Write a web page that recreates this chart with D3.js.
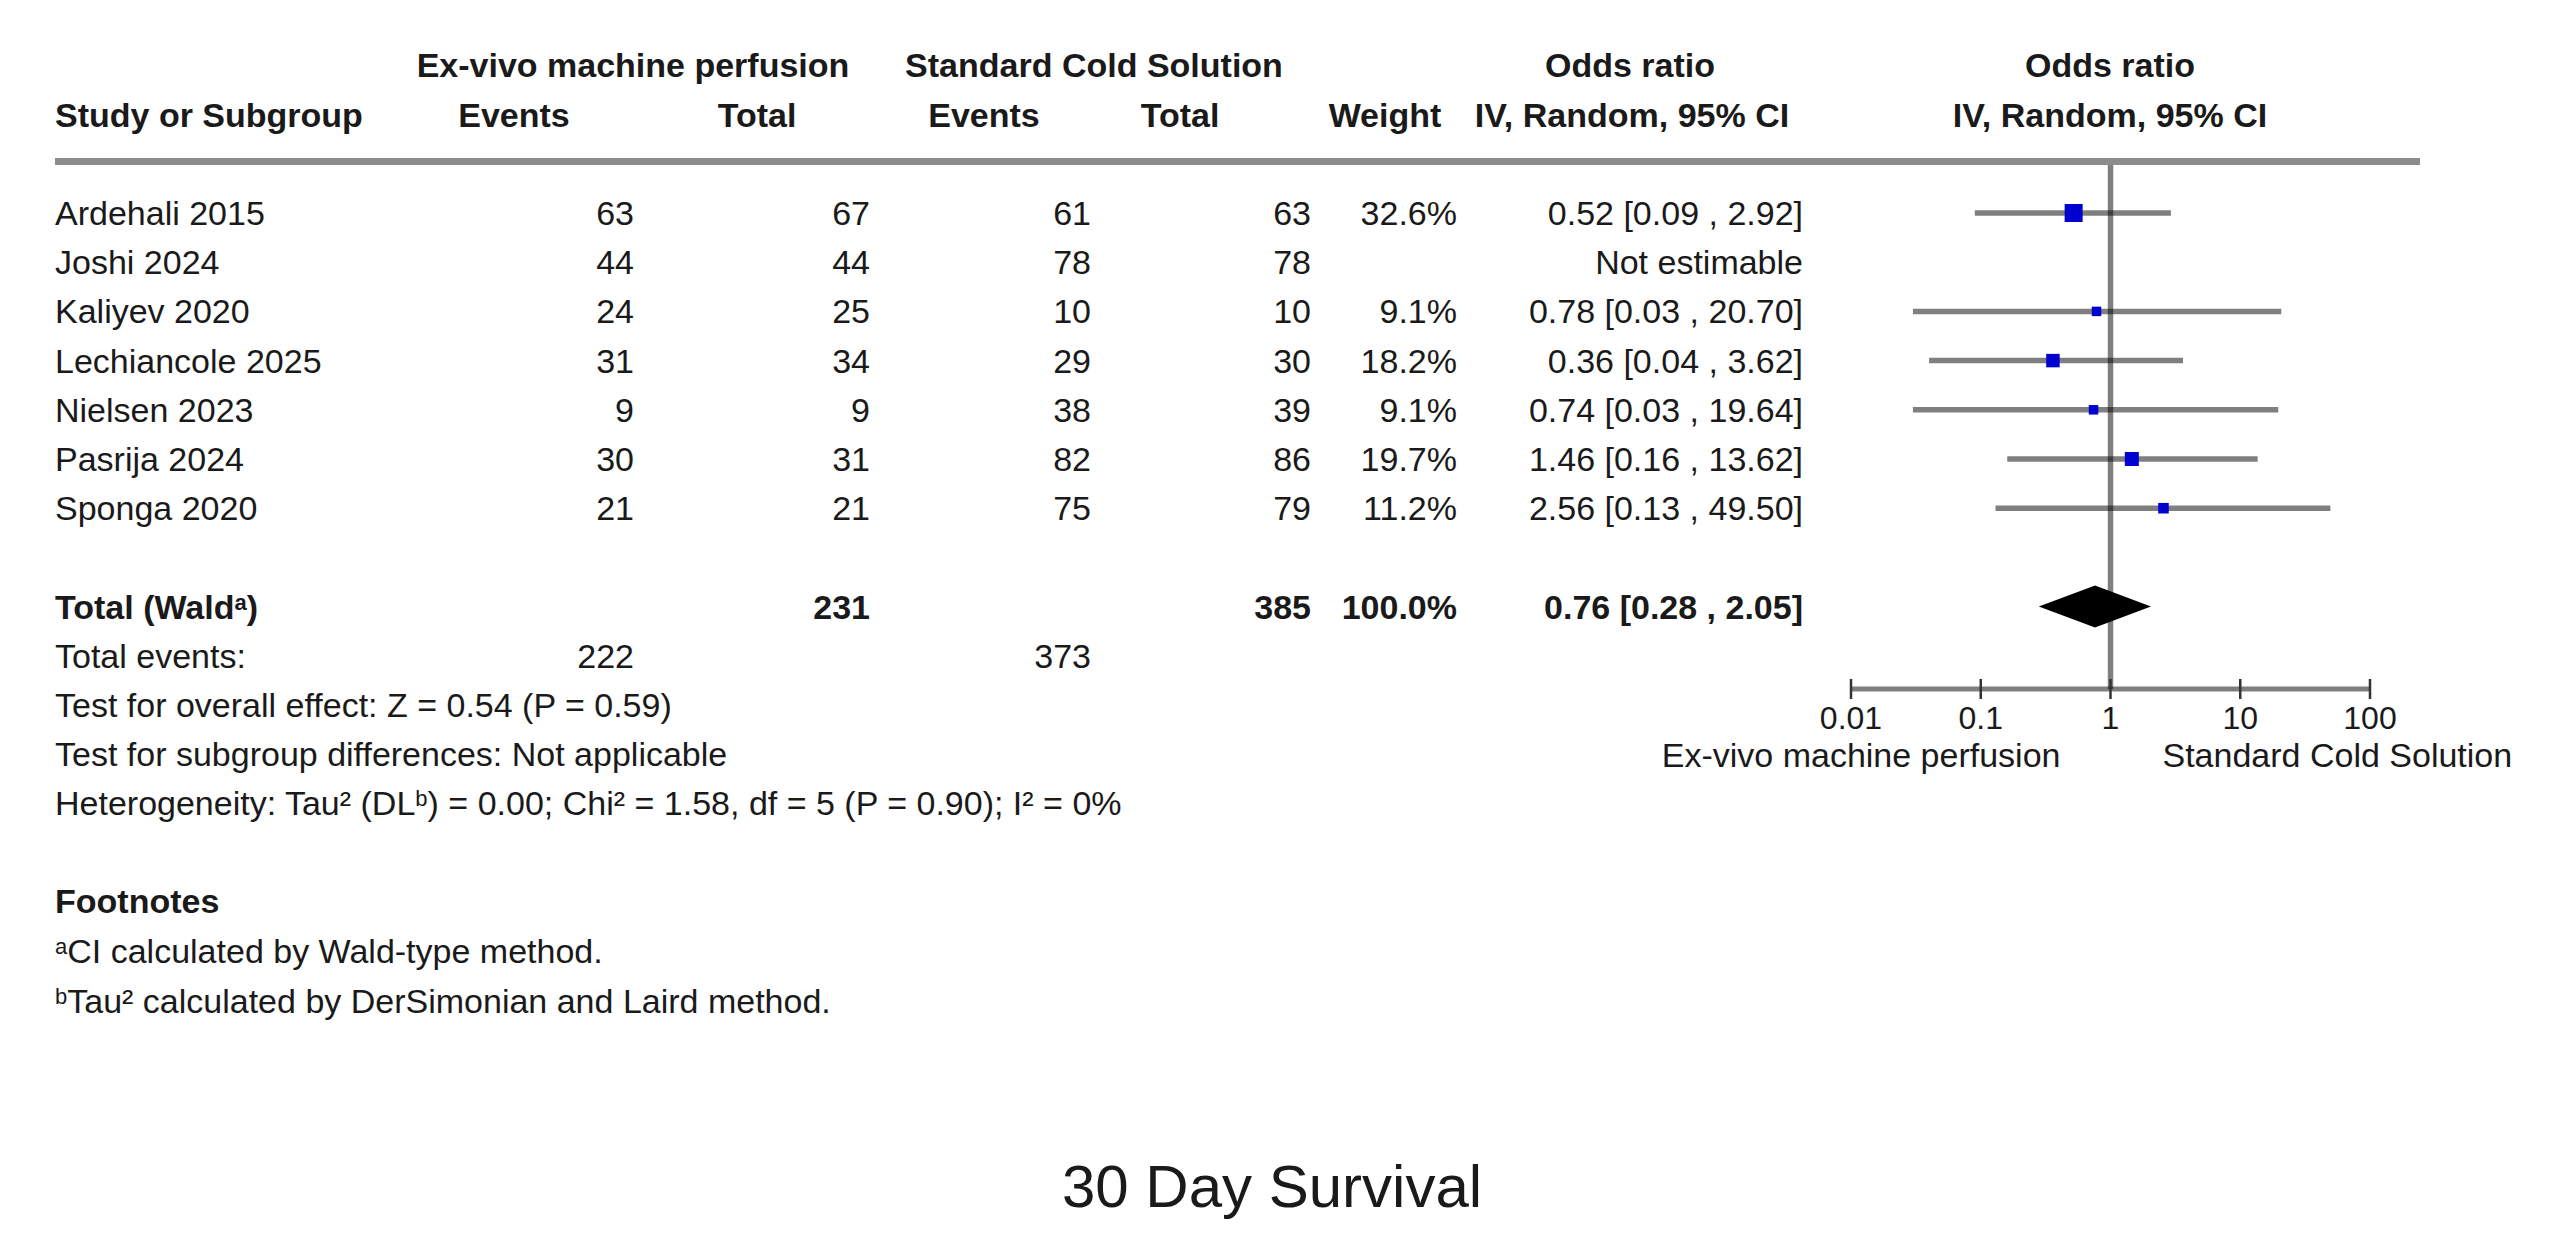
<!DOCTYPE html>
<html>
<head>
<meta charset="utf-8">
<script src="https://cdn.jsdelivr.net/npm/d3@7/dist/d3.min.js"></script>
<style>
  html, body { margin: 0; padding: 0; background: #fff; }
  svg { display: block; }
  text { font-family: "Liberation Sans", Arial, Helvetica, sans-serif; fill: #1a1a1a; }
</style>
</head>
<body>
<svg id="chart" width="2575" height="1246"></svg>
<script>
// ---------------- data ----------------
const studies = ["Ardehali 2015", "Joshi 2024", "Kaliyev 2020", "Lechiancole 2025", "Nielsen 2023", "Pasrija 2024", "Sponga 2020"];
const expEvents = [63, 44, 24, 31, 9, 30, 21];
const expTotal = [67, 44, 25, 34, 9, 31, 21];
const ctlEvents = [61, 78, 10, 29, 38, 82, 75];
const ctlTotal = [63, 78, 10, 30, 39, 86, 79];
const weights = [32.6, null, 9.1, 18.2, 9.1, 19.7, 11.2];
const oddsRatio = [0.52, null, 0.78, 0.36, 0.74, 1.46, 2.56];
const ciLow = [0.09, null, 0.03, 0.04, 0.03, 0.16, 0.13];
const ciHigh = [2.92, null, 20.70, 3.62, 19.64, 13.62, 49.50];
const ciText = ["0.52 [0.09 , 2.92]", "Not estimable", "0.78 [0.03 , 20.70]", "0.36 [0.04 , 3.62]", "0.74 [0.03 , 19.64]", "1.46 [0.16 , 13.62]", "2.56 [0.13 , 49.50]"];
const totalExp = 231, totalCtl = 385, totalWeight = "100.0%";
const totalEventsExp = 222, totalEventsCtl = 373;
const pooledOR = 0.76, pooledLow = 0.28, pooledHigh = 2.05;
const pooledText = "0.76 [0.28 , 2.05]";
const axisTicks = [0.01, 0.1, 1, 10, 100];
const axisTickLabels = ["0.01", "0.1", "1", "10", "100"];
const favoursLeft = "Ex-vivo machine perfusion";
const favoursRight = "Standard Cold Solution";
const title = "30 Day Survival";

// ---------------- layout ----------------
const svg = d3.select("#chart");
svg.append("rect").attr("width", 2575).attr("height", 1246).attr("fill", "#fff");

const x = d3.scaleLog().domain([0.01, 100]).range([1851, 2370]);
const y = d3.scaleLinear().domain([0, 1]).range([213, 262.2]); // row index -> centre
const FS = 34;
const col = { name: 55, expEv: 634, expTot: 870, ctlEv: 1091, ctlTot: 1311, weight: 1457, ci: 1803 };

function txt(xp, yp, s, opts = {}) {
  const t = svg.append("text").attr("x", xp).attr("y", yp)
    .attr("font-size", opts.size || FS)
    .attr("text-anchor", opts.anchor || "start")
    .attr("font-weight", opts.bold ? "bold" : "normal")
    .text(s);
  return t;
}

// header
txt(633, 77, "Ex-vivo machine perfusion", { bold: true, anchor: "middle" });
txt(1094, 77, "Standard Cold Solution", { bold: true, anchor: "middle" });
txt(1630, 77, "Odds ratio", { bold: true, anchor: "middle" });
txt(2110, 77, "Odds ratio", { bold: true, anchor: "middle" });
txt(col.name, 127, "Study or Subgroup", { bold: true });
txt(514, 127, "Events", { bold: true, anchor: "middle" });
txt(757, 127, "Total", { bold: true, anchor: "middle" });
txt(984, 127, "Events", { bold: true, anchor: "middle" });
txt(1180, 127, "Total", { bold: true, anchor: "middle" });
txt(1385, 127, "Weight", { bold: true, anchor: "middle" });
txt(1632, 127, "IV, Random, 95% CI", { bold: true, anchor: "middle" });
txt(2110, 127, "IV, Random, 95% CI", { bold: true, anchor: "middle" });

// top rule
svg.append("line").attr("x1", 55).attr("x2", 2420).attr("y1", 161.5).attr("y2", 161.5)
  .attr("stroke", "#8c8c8c").attr("stroke-width", 7);

// null line
svg.append("line").attr("x1", x(1)).attr("x2", x(1)).attr("y1", 165).attr("y2", 689)
  .attr("stroke", "#000").attr("stroke-opacity", 0.5).attr("stroke-width", 5.5);

// study rows
const base = 12;
studies.forEach((s, i) => {
  const yb = y(i) + base;
  txt(col.name, yb, s);
  txt(col.expEv, yb, expEvents[i], { anchor: "end" });
  txt(col.expTot, yb, expTotal[i], { anchor: "end" });
  txt(col.ctlEv, yb, ctlEvents[i], { anchor: "end" });
  txt(col.ctlTot, yb, ctlTotal[i], { anchor: "end" });
  if (weights[i] != null) txt(col.weight, yb, weights[i].toFixed(1) + "%", { anchor: "end" });
  txt(col.ci, yb, ciText[i], { anchor: "end" });
});

// CI lines and squares
const size = d3.scaleSqrt().domain([0, 32.6]).range([0, 18]);
const est = studies.map((s, i) => i).filter(i => oddsRatio[i] != null);
svg.append("g").selectAll("line").data(est).join("line")
  .attr("x1", i => x(ciLow[i])).attr("x2", i => x(ciHigh[i]))
  .attr("y1", i => y(i)).attr("y2", i => y(i))
  .attr("stroke", "#000").attr("stroke-opacity", 0.5).attr("stroke-width", 5.5);
svg.append("g").selectAll("rect").data(est).join("rect")
  .attr("x", i => x(oddsRatio[i]) - size(weights[i]) / 2)
  .attr("y", i => y(i) - size(weights[i]) / 2)
  .attr("width", i => size(weights[i]))
  .attr("height", i => size(weights[i]))
  .attr("fill", "#0000d0");

// total row
const yt = y(8);
const tw = txt(col.name, yt + base, "Total (Wald", { bold: true });
tw.append("tspan").attr("font-size", 22).attr("dy", -9).text("a");
tw.append("tspan").attr("dy", 9).text(")");
txt(col.expTot, yt + base, totalExp, { bold: true, anchor: "end" });
txt(col.ctlTot, yt + base, totalCtl, { bold: true, anchor: "end" });
txt(col.weight, yt + base, totalWeight, { bold: true, anchor: "end" });
txt(col.ci, yt + base, pooledText, { bold: true, anchor: "end" });

svg.append("path")
  .attr("d", `M${x(pooledLow)},${yt} L${x(pooledOR)},${yt - 21} L${x(pooledHigh)},${yt} L${x(pooledOR)},${yt + 21} Z`)
  .attr("fill", "#000");

// summary lines
txt(col.name, y(9) + base, "Total events:");
txt(col.expEv, y(9) + base, totalEventsExp, { anchor: "end" });
txt(col.ctlEv, y(9) + base, totalEventsCtl, { anchor: "end" });
txt(col.name, y(10) + base, "Test for overall effect: Z = 0.54 (P = 0.59)");
txt(col.name, y(11) + base, "Test for subgroup differences: Not applicable");
const het = txt(col.name, y(12) + base, "Heterogeneity: Tau² (DL");
het.append("tspan").attr("font-size", 22).attr("dy", -9).text("b");
het.append("tspan").attr("dy", 9).text(") = 0.00; Chi² = 1.58, df = 5 (P = 0.90); I² = 0%");

// axis
const ay = 689;
svg.append("line").attr("x1", x(0.01)).attr("x2", x(100)).attr("y1", ay).attr("y2", ay)
  .attr("stroke", "#000").attr("stroke-opacity", 0.5).attr("stroke-width", 5);
svg.append("g").selectAll("line").data(axisTicks).join("line")
  .attr("x1", d => x(d)).attr("x2", d => x(d)).attr("y1", ay - 10).attr("y2", ay + 10)
  .attr("stroke", "#333").attr("stroke-width", 2.5);
svg.append("g").selectAll("text").data(axisTicks).join("text")
  .attr("x", d => x(d)).attr("y", 729).attr("text-anchor", "middle")
  .attr("font-size", 32).text((d, i) => axisTickLabels[i]);
txt(x(1) - 50, 767, favoursLeft, { anchor: "end" });
txt(x(1) + 52, 767, favoursRight);

// footnotes
txt(col.name, 913, "Footnotes", { bold: true });
const fa = svg.append("text").attr("x", col.name).attr("y", 963).attr("font-size", FS);
fa.append("tspan").attr("font-size", 22).attr("dy", -9).text("a");
fa.append("tspan").attr("dy", 9).text("CI calculated by Wald-type method.");
const fb = svg.append("text").attr("x", col.name).attr("y", 1013).attr("font-size", FS);
fb.append("tspan").attr("font-size", 22).attr("dy", -9).text("b");
fb.append("tspan").attr("dy", 9).text("Tau² calculated by DerSimonian and Laird method.");

// title
txt(1272, 1207, title, { size: 60, anchor: "middle" });
</script>
</body>
</html>
